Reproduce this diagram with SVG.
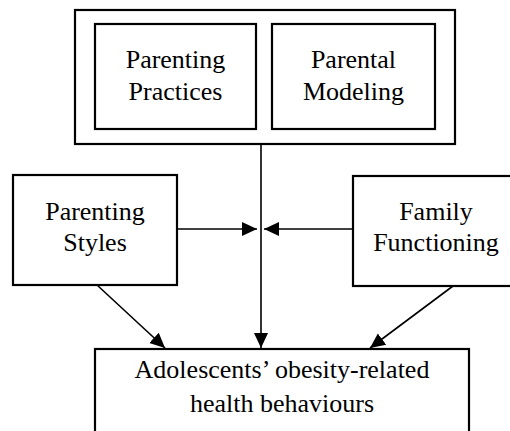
<svg xmlns="http://www.w3.org/2000/svg" width="510" height="431" viewBox="0 0 510 431">
<style>
.box{fill:none;stroke:#000;stroke-width:2.2}
.lbl{font-family:"Liberation Serif","Times New Roman",serif;font-size:26px;fill:#000;text-anchor:middle}
.con{fill:none;stroke:#000;stroke-width:1.6}
</style>
<defs>
<marker id="ah" markerUnits="userSpaceOnUse" markerWidth="16" markerHeight="16" viewBox="0 0 16 16" refX="15" refY="8" orient="auto">
<path d="M0,1 L15,8 L0,15 Z" fill="#000"/>
</marker>
</defs>
<rect width="510" height="431" fill="#fff"/>
<g id="parent-group">
<rect class="box" x="75" y="10" width="380" height="134"/>
</g>
<g id="parenting-practices">
<rect class="box" x="95" y="24" width="161" height="105"/>
<text class="lbl" x="175.5" y="68">Parenting</text>
<text class="lbl" x="175.5" y="100">Practices</text>
</g>
<g id="parental-modeling">
<rect class="box" x="272" y="24" width="163" height="105"/>
<text class="lbl" x="353.5" y="68">Parental</text>
<text class="lbl" x="353.5" y="100">Modeling</text>
</g>
<g id="parenting-styles">
<rect class="box" x="13" y="175" width="164" height="110"/>
<text class="lbl" x="95" y="220">Parenting</text>
<text class="lbl" x="95" y="251">Styles</text>
</g>
<g id="family-functioning">
<rect class="box" x="353" y="176" width="166" height="110"/>
<text class="lbl" x="436" y="220">Family</text>
<text class="lbl" x="436" y="251">Functioning</text>
</g>
<g id="outcome">
<rect class="box" x="95" y="349" width="374" height="100"/>
<text class="lbl" x="282" y="378">Adolescents’ obesity-related</text>
<text class="lbl" x="282" y="412">health behaviours</text>
</g>
<g id="connectors">
<line class="con" x1="261" y1="144" x2="261" y2="348" marker-end="url(#ah)"/>
<line class="con" x1="177" y1="229" x2="257" y2="229" marker-end="url(#ah)"/>
<line class="con" x1="353" y1="229" x2="264" y2="229" marker-end="url(#ah)"/>
<line class="con" x1="97" y1="285" x2="165" y2="348" marker-end="url(#ah)"/>
<line class="con" x1="453" y1="286" x2="370" y2="348" marker-end="url(#ah)"/>
</g>
</svg>
